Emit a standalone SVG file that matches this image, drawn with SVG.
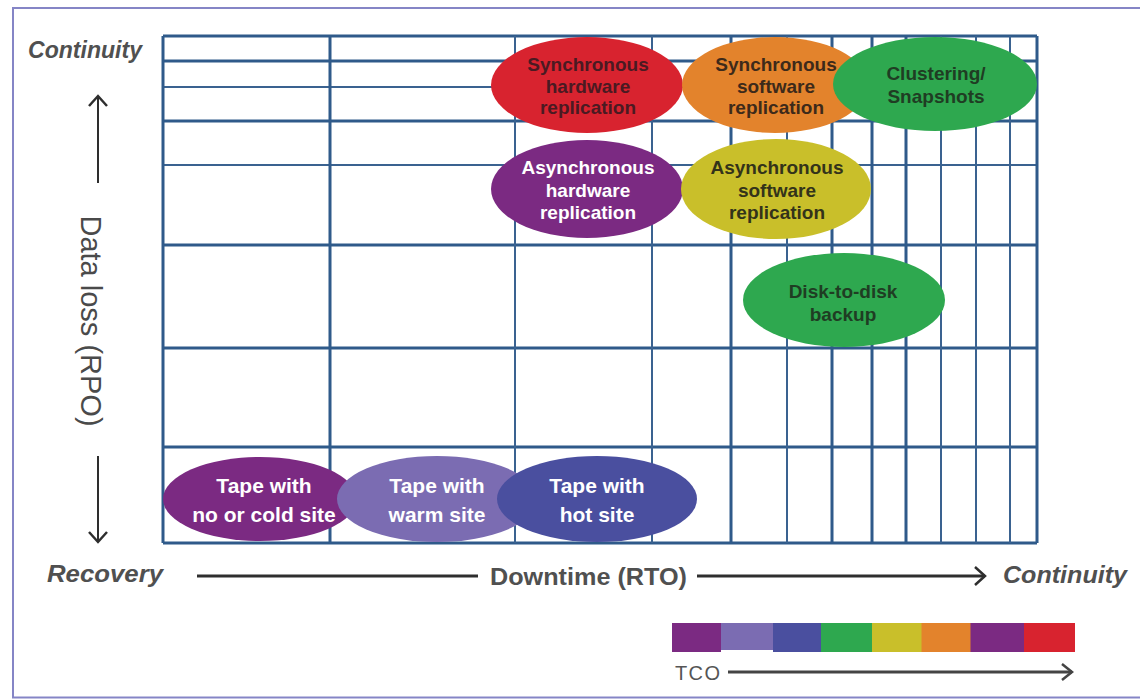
<svg xmlns="http://www.w3.org/2000/svg" width="1140" height="700" viewBox="0 0 1140 700">
<defs>
<style>
.frame{fill:#fff;stroke:#8585c6;stroke-width:2}
.gk{stroke:#2f5a8a;stroke-width:3;fill:none}
.gn{stroke:#3a6290;stroke-width:2;fill:none}
.ax{stroke:#2e2e2e;fill:none}
.lbl{font-family:"Liberation Sans",Arial,sans-serif;font-weight:bold;fill:#505050}
.it{font-style:italic}
.et{font-family:"Liberation Sans",Arial,sans-serif;font-weight:bold;font-size:19px;text-anchor:middle}
.tt{font-family:"Liberation Sans",Arial,sans-serif;font-weight:bold;font-size:21px;text-anchor:middle;fill:#fff}
.w{fill:#fff}
</style>
<marker id="ah" markerUnits="userSpaceOnUse" markerWidth="14" markerHeight="22" viewBox="0 0 14 22" refX="12" refY="11" orient="auto">
<path d="M2,2 L12,11 L2,20" fill="none" stroke="#2e2e2e" stroke-width="2.5"/>
</marker>
<marker id="ah2" markerUnits="userSpaceOnUse" markerWidth="14" markerHeight="20" viewBox="0 0 14 20" refX="12" refY="10" orient="auto">
<path d="M2,2 L12,10 L2,18" fill="none" stroke="#444" stroke-width="2.5"/>
</marker>
</defs>
<rect class="frame" x="13" y="8" width="1140" height="689.5"/>

<g id="grid">
<path class="gk" d="M163,36H1037M163,61H1037M163,121H1037M163,245H1037M163,348H1037M163,447H1037M163,543H1037"/>
<path class="gn" d="M163,87H1037M163,165H1037"/>
<path class="gk" d="M163,36V543M330,36V543M731,36V543M832,36V543M872,36V543M906,36V543M1037,36V543"/>
<path class="gn" d="M515,36V543M652,36V543M787,36V543M941,36V543M976,36V543M1010,36V543"/>
</g>

<g id="connectors">
<path class="ax" stroke-width="2" d="M98,183V96" marker-end="url(#ah)"/>
<path class="ax" stroke-width="2" d="M98,456V542" marker-end="url(#ah)"/>
<path class="ax" stroke-width="3" d="M197,576H478"/>
<path class="ax" stroke-width="3" d="M697,576H985" marker-end="url(#ah)"/>
<path stroke="#444" stroke-width="3" fill="none" d="M728,672H1072" marker-end="url(#ah2)"/>
</g>

<g id="axis-labels">
<text class="lbl it" x="28" y="58" font-size="23" textLength="114" lengthAdjust="spacingAndGlyphs">Continuity</text>
<text class="lbl it" x="47" y="582" font-size="23" textLength="116" lengthAdjust="spacingAndGlyphs">Recovery</text>
<text class="lbl" x="490" y="585" font-size="23" textLength="197" lengthAdjust="spacingAndGlyphs">Downtime (RTO)</text>
<text class="lbl it" x="1003" y="583" font-size="23" textLength="124" lengthAdjust="spacingAndGlyphs">Continuity</text>
<text transform="translate(81,321) rotate(90)" text-anchor="middle" font-family="'Liberation Sans',Arial,sans-serif" font-size="29" fill="#4a4a4a">Data loss (RPO)</text>
<text x="675" y="680" font-family="'Liberation Sans',Arial,sans-serif" font-size="20" fill="#555" textLength="45" lengthAdjust="spacing">TCO</text>
</g>

<g id="sync-hw">
<ellipse cx="587" cy="85" rx="96" ry="48" fill="#d8232f"/>
<text class="et" fill="#4a1a22"><tspan x="588" y="71">Synchronous</tspan><tspan x="588" y="93">hardware</tspan><tspan x="588" y="114">replication</tspan></text>
</g>
<g id="sync-sw">
<ellipse cx="775" cy="85" rx="93" ry="48" fill="#e3832c"/>
<text class="et" fill="#3d2a1a"><tspan x="776" y="71">Synchronous</tspan><tspan x="776" y="93">software</tspan><tspan x="776" y="114">replication</tspan></text>
</g>
<g id="clustering">
<ellipse cx="935" cy="84" rx="102" ry="47" fill="#2ea84f"/>
<text class="et" fill="#1f3d23"><tspan x="936" y="80">Clustering/</tspan><tspan x="936" y="103">Snapshots</tspan></text>
</g>
<g id="async-hw">
<ellipse cx="587" cy="189" rx="96" ry="49" fill="#7b2a82"/>
<text class="et w"><tspan x="588" y="174">Asynchronous</tspan><tspan x="588" y="197">hardware</tspan><tspan x="588" y="219">replication</tspan></text>
</g>
<g id="async-sw">
<ellipse cx="776" cy="189" rx="95" ry="50" fill="#c9bf2a"/>
<text class="et" fill="#33331a"><tspan x="777" y="174">Asynchronous</tspan><tspan x="777" y="197">software</tspan><tspan x="777" y="219">replication</tspan></text>
</g>
<g id="disk">
<ellipse cx="844" cy="300" rx="101" ry="47" fill="#2ea84f"/>
<text class="et" fill="#1f3d23"><tspan x="843" y="298">Disk-to-disk</tspan><tspan x="843" y="321">backup</tspan></text>
</g>
<g id="tape-cold">
<ellipse cx="260" cy="499" rx="97" ry="42" fill="#7b2a82"/>
<text class="tt"><tspan x="264" y="493">Tape with</tspan><tspan x="264" y="522">no or cold site</tspan></text>
</g>
<g id="tape-warm">
<ellipse cx="437" cy="499" rx="100" ry="43" fill="#7b6cb2"/>
<text class="tt"><tspan x="437" y="493">Tape with</tspan><tspan x="437" y="522">warm site</tspan></text>
</g>
<g id="tape-hot">
<ellipse cx="597" cy="499" rx="100" ry="43" fill="#4a4f9f"/>
<text class="tt"><tspan x="597" y="493">Tape with</tspan><tspan x="597" y="522">hot site</tspan></text>
</g>

<g id="tco-bar">
<rect x="672" y="623" width="49" height="29" fill="#7b2a82"/>
<rect x="721" y="623" width="52.5" height="27" fill="#7b6cb2"/>
<rect x="773" y="623" width="48" height="29" fill="#4a4f9f"/>
<rect x="821" y="623" width="51.5" height="29" fill="#2ea84f"/>
<rect x="872" y="623" width="50" height="29" fill="#c9bf2a"/>
<rect x="921.5" y="623" width="49.5" height="29" fill="#e3832c"/>
<rect x="970.5" y="623" width="54" height="29" fill="#7b2a82"/>
<rect x="1024" y="623" width="51" height="29" fill="#d8232f"/>
</g>
</svg>
